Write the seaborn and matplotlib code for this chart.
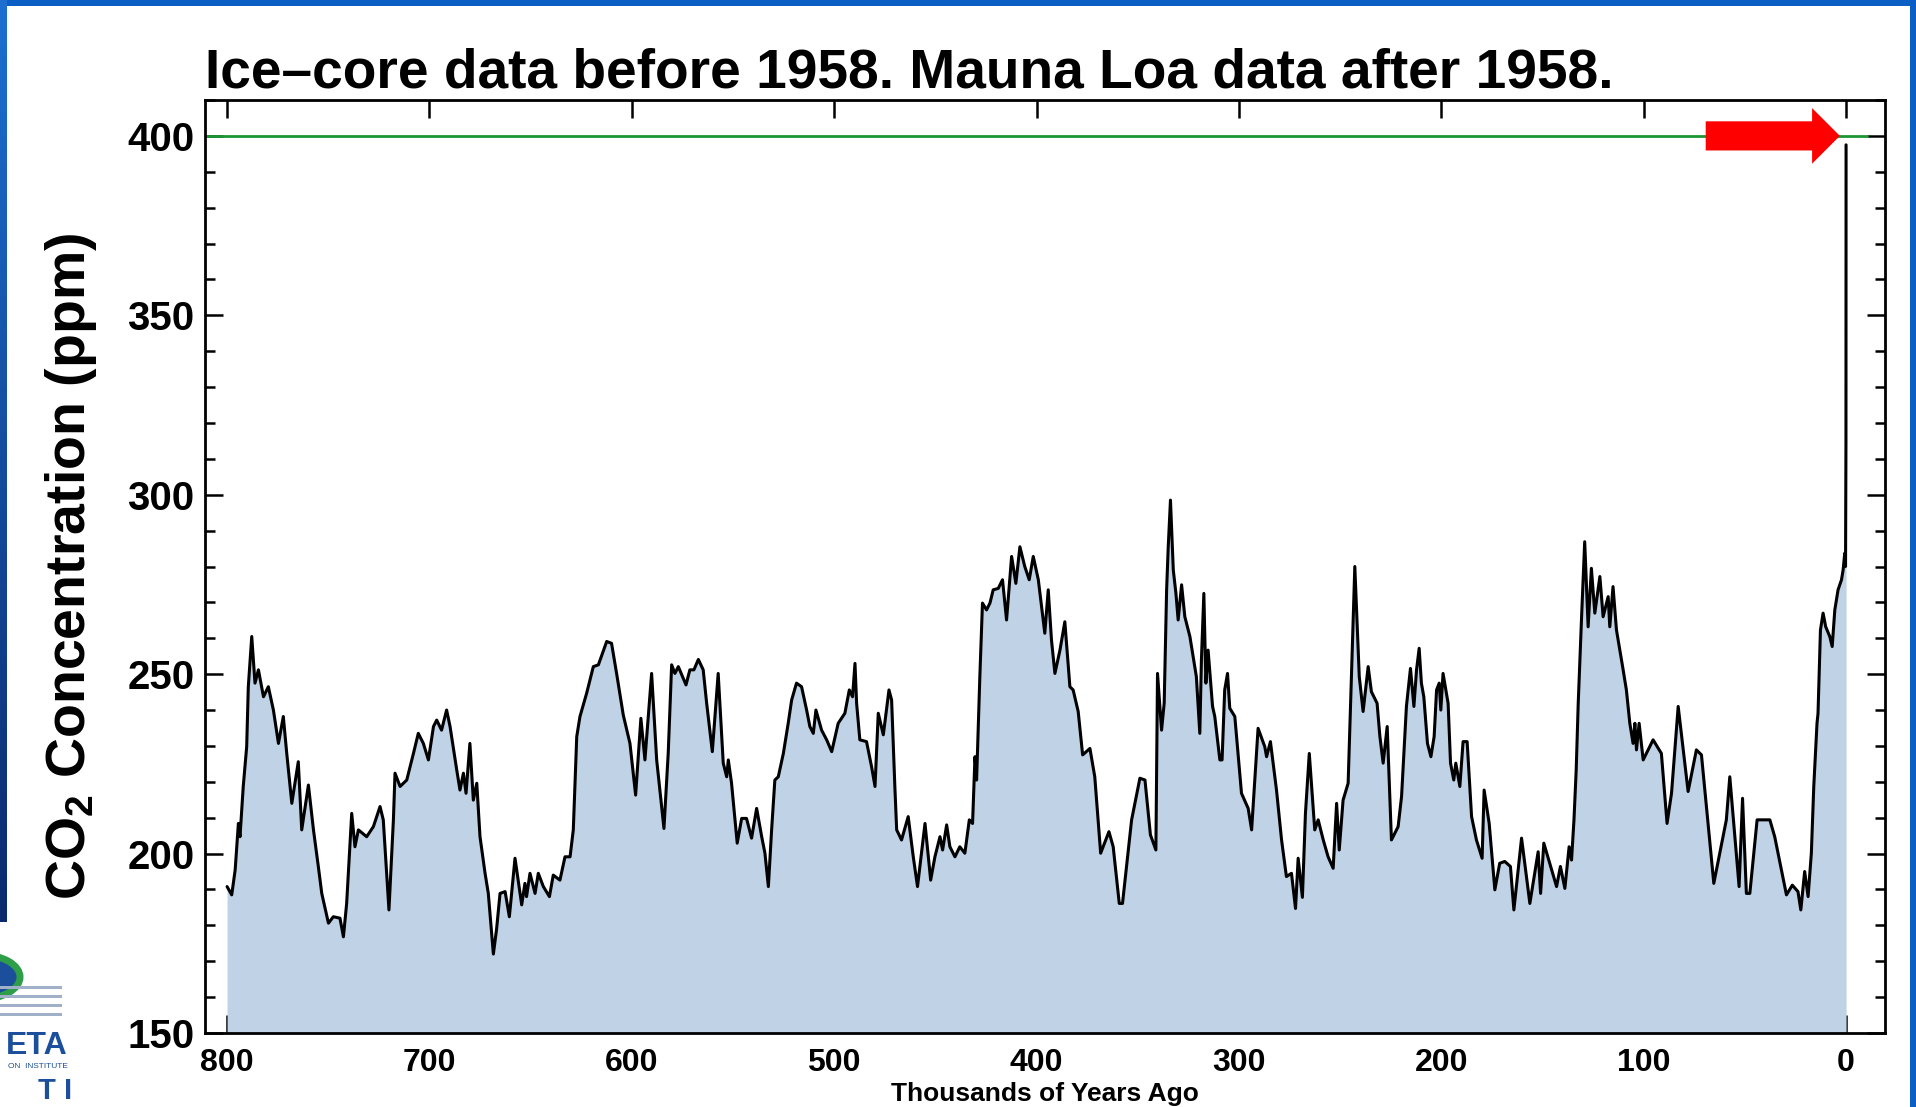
import numpy as np
import pandas as pd
import seaborn as sns
import matplotlib.pyplot as plt
from matplotlib.patches import Rectangle, Circle
from matplotlib.ticker import MultipleLocator, NullLocator

# ice-core record (thousands of years ago, ppm)
ice_kyr = [800, 797.7, 796, 794.4, 793.6, 792, 790.3, 789.5, 787.8, 786.2,
           784.5, 782, 779.6, 777.1, 774.6, 772.2, 770.5, 768, 764.8, 763.1,
           759.8, 757.3, 754.9, 753.2, 749.9, 747.5, 744.2, 742.5, 740.9, 738.4,
           736.8, 735.1, 731, 727.7, 724.4, 722.8, 720, 717.8, 717, 714.5,
           711.2, 707.9, 705.5, 703, 700.5, 698, 696.4, 694, 691.5, 689.8,
           686.5, 684.9, 683.2, 681.9, 680, 678.3, 676.6, 675, 672.5, 670.9,
           668.4, 666.8, 665.1, 662.6, 660.5, 657.7, 654.4, 652.8, 652, 650.3,
           647.8, 646.2, 643.7, 640.7, 638.8, 635.5, 633, 630.5, 628.9, 627.2,
           625.6, 622.3, 619, 616.5, 612.4, 610, 607.5, 604.2, 600.9, 598.1,
           595.5, 593.5, 590.2, 587.7, 584.1, 582, 580.3, 578.7, 577, 574.9,
           573.2, 571.3, 569.3, 567.1, 564.7, 563, 560.2, 557.3, 554.8, 553.1,
           552.3, 550.7, 547.9, 545.7, 543.3, 540.8, 538.3, 535.8, 534.2, 532.5,
           530.9, 529.3, 527.6, 525.1, 522.7, 521, 518.6, 516.1, 513.6, 512,
           510.3, 509, 506.2, 503.7, 501.2, 498, 494.7, 492.5, 490.9, 489.7,
           488.9, 487.3, 484, 481.5, 479.8, 478.2, 475.7, 472.9, 471.6, 470,
           469.1, 466.7, 463.4, 460.9, 458.8, 455.1, 452.3, 450.2, 447.7, 446.4,
           444.4, 442.8, 440.3, 437.9, 435.4, 433.2, 431.6, 430.4, 429.6, 428,
           426.7, 424.7, 423, 421.4, 418.9, 416.8, 414.8, 412.3, 410.2, 408.2,
           405.8, 403.6, 401.6, 399.1, 395.9, 394.2, 392.6, 390.9, 388.4, 386,
           383.5, 381.9, 379.4, 377.2, 373.6, 371.2, 368.3, 364.2, 362.1, 359.1,
           357.5, 353, 348.9, 346.4, 343.7, 341, 340.2, 338.2, 336.9, 335.7,
           334.9, 333.8, 332.4, 331.1, 330, 328.3, 326.7, 324.2, 321, 319.3,
           318.5, 317.3, 316.3, 315.2, 313, 311.9, 309.4, 308.3, 307, 305.6,
           304.5, 302, 298.7, 295.4, 293.7, 290.5, 287.2, 286.3, 284.4, 281.4,
           278.9, 276.5, 274, 272, 270.7, 268.6, 267.1, 265.2, 262.5, 260.8,
           258.3, 255.9, 253.4, 251.7, 250.4, 248.5, 246, 244.3, 242.7, 240.5,
           238.6, 236.1, 234.5, 231.7, 230.3, 228.7, 226.7, 224.6, 221.3, 219.6,
           217.2, 215.2, 213.5, 212.2, 210.9, 209.8, 208.6, 206.8, 205.1, 203.5,
           202.3, 201, 200.2, 199.1, 196.6, 195.4, 193.8, 192.8, 190.8, 189.2,
           187.2, 185, 182.6, 179.8, 178.8, 176.3, 173.5, 171.1, 168.6, 165.8,
           164.1, 160.3, 156.2, 152.1, 150.9, 149.3, 143, 141.1, 138.9, 136.8,
           135.6, 134.4, 133.3, 132.3, 130.7, 129.1, 127.4, 125.8, 124.1, 121.6,
           120, 117.5, 116.7, 115.1, 113.4, 110.1, 108.5, 106.8, 105.2, 104.3,
           103.5, 102.2, 100.2, 95.3, 91.2, 88.4, 86.2, 82.9, 78, 73.9,
           71.4, 65.3, 59.1, 57.4, 52.8, 51.1, 49.2, 47.5, 43.9, 37.6,
           35.2, 29.4, 26.5, 23.7, 22.3, 20.4, 18.7, 17.1, 15.9, 14.3,
           13.8, 12.6, 11.3, 10, 8, 6.8, 5.5, 3.9, 2.2, 1.4,
           0.6, 0.2, 0.0]
ice_ppm = [190.8, 188.5, 195.4, 208.4, 204.7, 218.7, 229.8, 246.5, 260.5, 247.5,
           251.2, 243.7, 246.5, 240, 230.7, 238.2, 227.9, 214, 225.6, 206.6,
           219.1, 206.6, 196.4, 188.9, 180.6, 182.4, 182, 176.8, 186.1, 211.2,
           201.9, 206.6, 204.7, 207.5, 213.1, 209.4, 184.3, 209.4, 222.4, 218.7,
           220.5, 227.9, 233.5, 230.7, 226.1, 235.4, 237.2, 234.4, 240, 235.4,
           223.3, 217.7, 222.4, 216.8, 230.7, 214.9, 219.6, 204.7, 194.5, 188.9,
           172, 179, 188.9, 189.4, 182.4, 198.7, 185.7, 191.7, 188, 194.5,
           188.9, 194.5, 190.8, 188, 194, 192.6, 199.1, 199.1, 206.6, 232.6,
           238.2, 244.7, 252.1, 252.6, 259.1, 258.6, 250.2, 238.6, 230.7, 216.3,
           237.7, 226.1, 250.2, 226.1, 207, 227.9, 252.6, 250.2, 252.1, 249.3,
           247, 251.2, 251.2, 254.1, 251.2, 241.9, 228.4, 250.2, 225.2, 221.4,
           226.1, 219.6, 202.9, 209.8, 209.8, 204.3, 212.6, 204.7, 200.1, 190.8,
           206.6, 220.5, 221.4, 227.9, 236.3, 242.8, 247.5, 246.5, 240, 235.4,
           233.5, 240, 234.4, 231.7, 228.4, 236.3, 239.1, 245.6, 243.7, 253,
           241.9, 231.7, 231.2, 224.2, 218.7, 239.1, 233.1, 245.6, 242.8, 218.7,
           206.6, 203.8, 210.3, 199.1, 190.8, 208.4, 192.6, 199.1, 204.7, 201,
           208, 201.9, 199.1, 201.9, 200.1, 209.4, 208.4, 227, 220.5, 249.3,
           269.8, 267.9, 269.8, 273.5, 273.9, 276.3, 265.1, 282.8, 275.3, 285.5,
           280, 276.3, 282.8, 276.3, 261.4, 273.5, 259.5, 250.2, 256.7, 264.6,
           246.5, 245.6, 239.6, 227.5, 229.3, 221.4, 200.1, 206.1, 201.9, 186.1,
           186.1, 209.4, 221, 220.5, 205.2, 201, 250.2, 234.4, 241.9, 273.5,
           285.5, 298.5, 279, 272.5, 265.1, 274.9, 266, 260.5, 249.3, 233.5,
           254, 272.5, 247.5, 256.7, 241, 238.2, 226.1, 226.1, 245.6, 250.2,
           240.5, 238.2, 216.8, 212.6, 206.6, 234.9, 229.8, 227, 231.2, 217.7,
           203.8, 193.6, 194.5, 184.7, 198.7, 187.8, 211.2, 227.9, 206.6, 209.4,
           203.8, 199.1, 195.9, 214, 201, 214.9, 219.6, 251.2, 280, 249.3,
           239.6, 252.1, 245.1, 241.9, 232.6, 225.2, 235.4, 203.8, 207.5, 215.9,
           241, 251.6, 241, 251.2, 257.2, 247.5, 243.7, 230.7, 227, 232.6,
           245.6, 247.5, 240, 250.2, 241.9, 225.2, 220.5, 225.2, 218.7, 231.2,
           231.2, 210.3, 203.8, 198.7, 217.7, 208.4, 189.9, 197.3, 197.8, 196.4,
           184.3, 204.3, 186.1, 200.5, 188.9, 202.9, 190.8, 196.4, 190.3, 201.9,
           198.2, 209.4, 223.3, 241.9, 265.1, 286.9, 263.2, 279.5, 267, 277.2,
           266, 271.6, 263.2, 274.4, 262.3, 251.2, 245.6, 236.3, 230.7, 236.3,
           228.9, 236.3, 226.1, 231.7, 227.9, 208.4, 216.8, 241, 217.3, 228.9,
           227.5, 191.7, 209.4, 221.4, 190.8, 215.4, 188.9, 188.9, 209.4, 209.4,
           204.7, 188.5, 191.2, 189.4, 184.3, 195, 188, 200.1, 218.7, 236.3,
           239.1, 262.3, 267, 263.2, 260.5, 257.7, 267.9, 273.5, 276.3, 279,
           283.7, 280, 312]

# Mauna Loa record after 1958 (a vertical spike at this scale)
ml_kyr = [-0.008, -0.063]
ml_ppm = [315, 397.5]

ref_level = 400  # green reference line

df = pd.DataFrame({'kyr': ice_kyr + ml_kyr, 'ppm': ice_ppm + ml_ppm})

sns.set_theme(style='ticks')
plt.rcParams['font.family'] = ['Liberation Sans', 'DejaVu Sans']
plt.rcParams['font.weight'] = 'bold'
plt.rcParams['text.color'] = 'black'
plt.rcParams['mathtext.fontset'] = 'custom'
plt.rcParams['mathtext.rm'] = 'Liberation Sans:bold'
plt.rcParams['mathtext.it'] = 'Liberation Sans:bold'
plt.rcParams['mathtext.bf'] = 'Liberation Sans:bold'

W, H = 1916, 1107
fig = plt.figure(figsize=(W / 100, H / 100), dpi=100)
fig.patch.set_facecolor('white')
ax = fig.add_axes([205 / W, 1 - 1033 / H, 1680 / W, 933 / H])
ax.set_facecolor('white')

ax.fill_between(df['kyr'], 150, df['ppm'], color='#bfd2e6', lw=0, zorder=1)
sns.lineplot(data=df, x='kyr', y='ppm', sort=False, estimator=None,
             color='black', lw=2.2, ax=ax, zorder=3)
ax.axhline(ref_level, xmin=0, xmax=0.989, color='#1c9632', lw=2, zorder=2)

# red arrow pointing at the present-day value
ax.annotate('', xy=(3, ref_level), xytext=(69.3, ref_level),
            arrowprops=dict(arrowstyle='simple,head_length=20,head_width=40,tail_width=21',
                            mutation_scale=1, fc='#ff0000', ec='none', lw=0,
                            shrinkA=0, shrinkB=0), zorder=4)

ax.set_xlim(810.9, -19.3)
ax.set_ylim(150, 410)
ax.set_xticks(range(0, 801, 100))
ax.set_yticks(range(150, 401, 50))
ax.yaxis.set_minor_locator(MultipleLocator(10))
ax.xaxis.set_minor_locator(NullLocator())
ax.tick_params(which='both', direction='in', top=True, right=True,
               width=1.8, color='black', labelcolor='black')
ax.tick_params(which='major', length=13)
ax.tick_params(which='minor', length=7)
ax.tick_params(axis='y', labelsize=29, pad=7.5)
ax.tick_params(axis='x', labelsize=23, pad=11)
for lab in ax.get_xticklabels() + ax.get_yticklabels():
    lab.set_fontweight('bold')
for s in ax.spines.values():
    s.set_linewidth(2)
    s.set_color('black')

ax.set_title('Ice\u2013core data before 1958. Mauna Loa data after 1958.',
             loc='left', fontsize=39.7, fontweight='bold', pad=7, color='black')
ax.set_xlabel('Thousands of Years Ago', fontsize=19, fontweight='bold', color='black')
ax.xaxis.set_label_coords(0.5, -0.053)
ax.set_ylabel(r'CO$_2$ Concentration (ppm)', fontsize=40, fontweight='bold', color='black')
ax.yaxis.label.set_va('center')
ax.yaxis.set_label_coords(-0.0795, 0.5)

# slide border
def px_rect(x0, y0, x1, y1, color):
    fig.add_artist(Rectangle((x0 / W, 1 - y1 / H), (x1 - x0) / W, (y1 - y0) / H,
                             transform=fig.transFigure, color=color, lw=0, zorder=0))

px_rect(0, 0, W, 6, '#0b5fc4')
px_rect(W - 6, 0, W, H, '#0b5fc4')
band = fig.add_axes([0, 1 - 922 / H, 7 / W, 922 / H], zorder=0)
band.imshow(np.linspace(0, 1, 100).reshape(-1, 1), aspect='auto',
            cmap=sns.blend_palette(['#1c6fd0', '#0b2a6e'], as_cmap=True))
band.set_axis_off()

# partial logo in lower-left corner
fig.add_artist(Circle((-18 / W, 1 - 977 / H), 38 / W, transform=fig.transFigure,
                      fc='#1b4e9b', ec='#2e9e48', lw=5, zorder=0))
for yy in (986, 995, 1004, 1013):
    px_rect(0, yy, 62, yy + 3, '#9fb0c8')
fig.text(68 / W, 1 - 1046 / H, 'ETA', fontsize=23, fontweight='bold',
         color='#1b4e9b', ha='right', va='center')
fig.text(68 / W, 1 - 1066 / H, 'ON  INSTITUTE', fontsize=6, fontweight='normal',
         color='#1b4e9b', ha='right', va='center')
fig.text(72 / W, 1 - 1077 / H, 'T I', fontsize=21, fontweight='bold',
         color='#1b4e9b', ha='right', va='top')

fig.savefig('out.png', dpi=100, facecolor='white')
